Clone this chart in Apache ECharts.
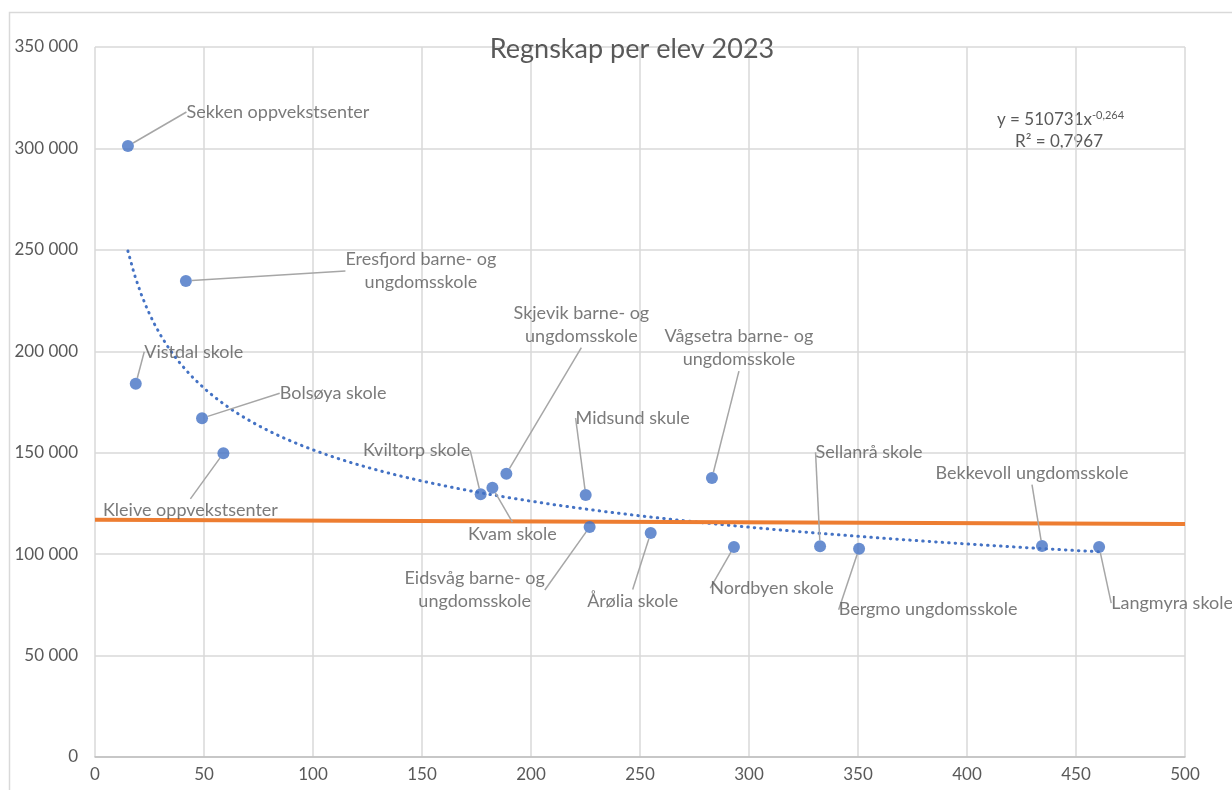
<!DOCTYPE html>
<html>
<head>
<meta charset="utf-8">
<script src="https://cdn.jsdelivr.net/npm/echarts@6/dist/echarts.min.js"></script>
<style>html,body{margin:0;padding:0;background:#fff}#c{width:1232px;height:790px}</style>
</head>
<body>
<div id="c"></div>
<script>
// ---- data ----
const schools = [
  "Sekken oppvekstsenter", "Eresfjord barne- og\nungdomsskole", "Vistdal skole", "Bolsøya skole",
  "Kleive oppvekstsenter", "Kviltorp skole", "Kvam skole", "Skjevik barne- og\nungdomsskole",
  "Midsund skule", "Eidsvåg barne- og\nungdomsskole", "Årølia skole", "Vågsetra barne- og\nungdomsskole",
  "Nordbyen skole", "Sellanrå skole", "Bergmo ungdomsskole", "Bekkevoll ungdomsskole", "Langmyra skole"
];
const pupils = [15.1, 41.7, 18.7, 49.1, 58.9, 176.9, 182.3, 188.7, 225.1, 226.9, 254.9, 283.0, 293.1, 332.6, 350.5, 434.4, 460.6];
const costPerPupil = [301200, 234650, 184000, 167000, 149700, 129500, 132750, 139650, 129150, 113400, 110400, 137500, 103500, 103900, 102700, 104000, 103500];
const referenceLineX = [0, 500];
const referenceLineY = [116900, 114800];
const trendA = 510731;
const trendB = -0.264;
const trendR2 = "0,7967";
const titleText = "Regnskap per elev 2023";
const xTicks = [0, 50, 100, 150, 200, 250, 300, 350, 400, 450, 500];
const yTicks = [0, 50000, 100000, 150000, 200000, 250000, 300000, 350000];

// label offsets (pixels, relative to the point) - presentation only
const labelOffsets = [
  [150, -34], [235, -10], [58, -32], [131, -25], [-33, 57], [-64, -44], [20, 46], [75, -149],
  [47, -77], [-115, 63], [-18, 68], [27, -130], [38, 41], [49, -94], [69, 61], [-10, -73], [73, 56]
];

const points = pupils.map((x, i) => ({ value: [x, costPerPupil[i]], name: schools[i] }));
const xmin = Math.min(...pupils), xmax = Math.max(...pupils);
const trend = [];
for (let i = 0; i <= 150; i++) {
  const x = xmin + (xmax - xmin) * i / 150;
  trend.push([x, trendA * Math.pow(x, trendB)]);
}
const refLine = referenceLineX.map((x, i) => [x, referenceLineY[i]]);

const fmt = v => String(v).replace(/\B(?=(\d{3})+(?!\d))/g, ' ');
const font = 'Lato, "Open Sans", sans-serif';
const txt = '#595959';

const chart = echarts.init(document.getElementById('c'), null, { renderer: 'canvas' });
chart.setOption({
  animation: false,
  textStyle: { fontFamily: font },
  title: {
    text: titleText, left: 627, top: 31, textAlign: 'center',
    textStyle: { fontFamily: font, fontSize: 27, fontWeight: 'normal', color: txt }
  },
  grid: { left: 95, right: 47, top: 47, bottom: 33, containLabel: false },
  xAxis: {
    type: 'value', min: 0, max: 500, interval: 50,
    axisLine: { show: true, lineStyle: { color: '#bfbfbf', width: 1.5 } },
    axisTick: { show: false },
    splitLine: { show: true, lineStyle: { color: '#d9d9d9', width: 1.5 } },
    axisLabel: { color: txt, fontSize: 17, margin: 9, fontFamily: font }
  },
  yAxis: {
    type: 'value', min: 0, max: 350000, interval: 50000,
    axisLine: { show: false },
    axisTick: { show: false },
    splitLine: { show: true, lineStyle: { color: '#d9d9d9', width: 1.5 } },
    axisLabel: { color: txt, fontSize: 17, margin: 17, fontFamily: font, formatter: v => fmt(v) }
  },
  graphic: [
    { type: 'rect', shape: { x: 9.5, y: 12.5, width: 1400, height: 1000 }, style: { fill: 'none', stroke: '#d9d9d9', lineWidth: 1.5 }, silent: true, z: -1 },
    { type: 'text', left: 997, top: 110, style: {
        text: '{b|y = ' + trendA + 'x}{s|' + String(trendB).replace('.', ',') + '}',
        rich: { b: { fontSize: 17, fontFamily: font, fill: txt }, s: { fontSize: 11, fontFamily: font, fill: txt, verticalAlign: 'top', padding: [0, 0, 9, 0] } }
      } },
    { type: 'text', left: 1015, top: 133, style: {
        text: 'R² = ' + trendR2, fontSize: 17, fontFamily: font, fill: txt } }
  ],
  series: [
    {
      type: 'line', data: refLine, showSymbol: false, symbol: 'none',
      lineStyle: { color: '#ED7D31', width: 4 }, z: 3
    },
    {
      type: 'line', data: trend, showSymbol: false, symbol: 'none', smooth: false,
      lineStyle: { color: '#4472C4', width: 3, type: [0.5, 6], cap: 'round' }, z: 2
    },
    {
      type: 'scatter', data: points, symbol: 'circle', symbolSize: 12,
      itemStyle: { color: '#4472C4' }, z: 4,
      label: {
        show: true, position: 'inside', formatter: p => p.name, color: txt,
        fontSize: 18, fontFamily: font, align: 'center', lineHeight: 23
      },
      labelLine: { show: true, lineStyle: { color: '#a6a6a6', width: 1.5 } },
      labelLayout: p => ({ dx: labelOffsets[p.dataIndex][0], dy: labelOffsets[p.dataIndex][1] })
    }
  ]
});
</script>
</body>
</html>
